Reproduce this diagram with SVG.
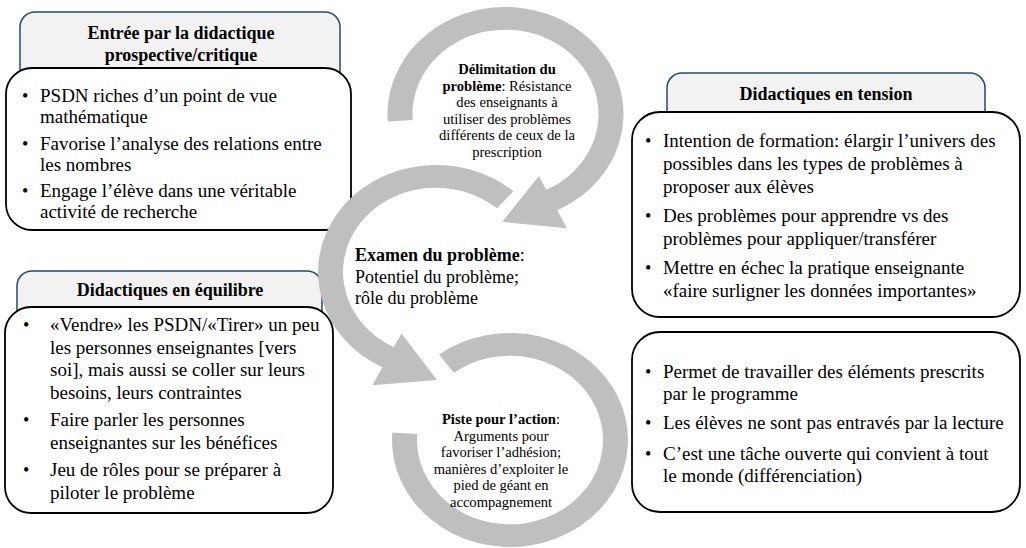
<svg xmlns="http://www.w3.org/2000/svg" width="1026" height="548" viewBox="0 0 1026 548">
<style>
text{font-family:"Liberation Serif","Times New Roman",serif;fill:#000}
.hdr{fill:#f2f2f2;stroke:#1f4e6b;stroke-width:1.5}
.body{fill:#fff;stroke:#000;stroke-width:1.8}
.ht{font-size:18px;font-weight:bold;text-anchor:middle}
.bt{font-size:19px}
.bu{font-size:18px}
.arc{fill:#bfbfbf}
.c1{font-size:14.6px;text-anchor:middle}
.c2{font-size:18px}
.b{font-weight:bold}
</style>
<g id="box-prospective">
<rect class="hdr" x="20" y="12" width="320" height="90" rx="15"/>
<text class="ht" x="181" y="39">Entrée par la didactique</text>
<text class="ht" x="181" y="61">prospective/critique</text>
<rect class="body" x="6" y="68" width="345" height="162" rx="26"/>
<text class="bu" x="22" y="102">•</text>
<text class="bt" x="40" y="102">PSDN riches d’un point de vue</text>
<text class="bt" x="40" y="123">mathématique</text>
<text class="bu" x="22" y="150">•</text>
<text class="bt" x="40" y="150">Favorise l’analyse des relations entre</text>
<text class="bt" x="40" y="171">les nombres</text>
<text class="bu" x="22" y="197">•</text>
<text class="bt" x="40" y="197">Engage l’élève dans une véritable</text>
<text class="bt" x="40" y="218">activité de recherche</text>
</g>
<g id="box-equilibre">
<rect class="hdr" x="17" y="271" width="305" height="80" rx="15"/>
<text class="ht" x="170" y="296">Didactiques en équilibre</text>
<rect class="body" x="5" y="307" width="328" height="206" rx="26"/>
<text class="bu" x="23" y="331">•</text>
<text class="bt" x="50" y="331">«Vendre» les PSDN/«Tirer» un peu</text>
<text class="bt" x="50" y="354">les personnes enseignantes [vers</text>
<text class="bt" x="50" y="376">soi], mais aussi se coller sur leurs</text>
<text class="bt" x="50" y="399">besoins, leurs contraintes</text>
<text class="bu" x="23" y="426">•</text>
<text class="bt" x="50" y="426">Faire parler les personnes</text>
<text class="bt" x="50" y="449">enseignantes sur les bénéfices</text>
<text class="bu" x="23" y="476">•</text>
<text class="bt" x="50" y="476">Jeu de rôles pour se préparer à</text>
<text class="bt" x="50" y="499">piloter le problème</text>
</g>
<g id="box-tension">
<rect class="hdr" x="667" y="73" width="318" height="80" rx="15"/>
<text class="ht" x="826" y="100">Didactiques en tension</text>
<rect class="body" x="632" y="112" width="388" height="205" rx="28"/>
<text class="bu" x="645" y="147">•</text>
<text class="bt" x="663" y="147">Intention de formation: élargir l’univers des</text>
<text class="bt" x="663" y="170">possibles dans les types de problèmes à</text>
<text class="bt" x="663" y="193">proposer aux élèves</text>
<text class="bu" x="645" y="222">•</text>
<text class="bt" x="663" y="222">Des problèmes pour apprendre vs des</text>
<text class="bt" x="663" y="245">problèmes pour appliquer/transférer</text>
<text class="bu" x="645" y="274">•</text>
<text class="bt" x="663" y="274">Mettre en échec la pratique enseignante</text>
<text class="bt" x="663" y="297">«faire surligner les données importantes»</text>
</g>
<g id="box-avantages">
<rect class="body" x="632" y="332" width="388" height="180" rx="28"/>
<text class="bu" x="645" y="378">•</text>
<text class="bt" x="663" y="378">Permet de travailler des éléments prescrits</text>
<text class="bt" x="663" y="400">par le programme</text>
<text class="bu" x="645" y="429">•</text>
<text class="bt" x="663" y="429">Les élèves ne sont pas entravés par la lecture</text>
<text class="bu" x="645" y="460">•</text>
<text class="bt" x="663" y="460">C’est une tâche ouverte qui convient à tout</text>
<text class="bt" x="663" y="482">le monde (différenciation)</text>
</g>
<g id="connectors">
<path class="arc" transform="translate(510,440) scale(1,0.907)" d="M -71.01 -94.24 A 118 118 0 1 1 -117.71 -8.23 L -92.77 -6.49 A 93 93 0 1 0 -55.97 -74.27 Z"/>
<path class="arc" transform="translate(436,272) scale(1,0.907)" d="M 77.42 -89.06 A 118 118 0 1 0 -53.57 105.14 L -63.56 124.74 L 1.11 118.97 L -34.50 67.72 L -42.22 82.86 A 93 93 0 1 1 61.01 -70.19 Z"/>
<path class="arc" transform="translate(505.5,114) scale(1,0.907)" d="M -117.71 8.23 A 118 118 0 1 1 51.73 106.06 L 61.37 125.83 L -3.18 118.93 L 33.32 68.31 L 40.77 83.59 A 93 93 0 1 0 -92.77 6.49 Z"/>
</g>
<g id="step-delimitation">
<text class="c1 b" x="507" y="74">Délimitation du</text>
<text class="c1" x="507" y="90.5"><tspan class="b">problème</tspan>: Résistance</text>
<text class="c1" x="507" y="107">des enseignants à</text>
<text class="c1" x="507" y="123.5">utiliser des problèmes</text>
<text class="c1" x="507" y="140">différents de ceux de la</text>
<text class="c1" x="507" y="156.5">prescription</text>
</g>
<g id="step-examen">
<text class="c2" x="355" y="261"><tspan class="b">Examen du problème</tspan>:</text>
<text class="c2" x="355" y="283">Potentiel du problème;</text>
<text class="c2" x="355" y="304">rôle du problème</text>
</g>
<g id="step-piste">
<text class="c1" x="501" y="424"><tspan class="b">Piste pour l’action</tspan>:</text>
<text class="c1" x="501" y="440.5">Arguments pour</text>
<text class="c1" x="501" y="457">favoriser l’adhésion;</text>
<text class="c1" x="501" y="473.5">manières d’exploiter le</text>
<text class="c1" x="501" y="490">pied de géant en</text>
<text class="c1" x="501" y="506.5">accompagnement</text>
</g>
</svg>
